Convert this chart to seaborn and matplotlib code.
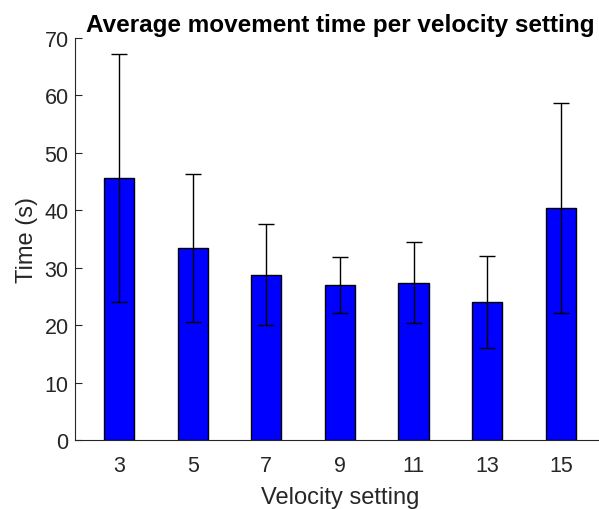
import matplotlib
matplotlib.use("Agg")
import matplotlib.pyplot as plt
import seaborn as sns
import pandas as pd

# Mean movement time and its spread for each velocity setting
velocity = ["3", "5", "7", "9", "11", "13", "15"]
mean_time = [45.6, 33.4, 28.8, 27.0, 27.4, 24.0, 40.4]
time_err = [21.5, 12.9, 8.8, 4.8, 7.1, 8.0, 18.2]

df = pd.DataFrame({"velocity": velocity, "time": mean_time})

sns.set_theme(style="ticks")
plt.rcParams["font.family"] = ["Liberation Sans", "DejaVu Sans"]

fig = plt.figure(figsize=(5.99, 5.10), dpi=100)
ax = fig.add_axes([0.125, 0.135, 0.885, 0.789])

sns.barplot(data=df, x="velocity", y="time", order=velocity,
            color="#0000ff", saturation=1, width=0.41,
            edgecolor="black", linewidth=1.0, errorbar=None, ax=ax)

ax.errorbar(range(len(velocity)), mean_time, yerr=time_err, fmt="none",
            ecolor="black", elinewidth=1.0, capsize=5.5, capthick=1.0)

ax.set_xlim(-0.6, 6.6)
ax.set_ylim(0, 70)
ax.set_yticks(range(0, 71, 10))

grey = "#262626"
for side in ("top", "right"):
    ax.spines[side].set_visible(False)
for side in ("left", "bottom"):
    ax.spines[side].set_color(grey)
    ax.spines[side].set_linewidth(0.8)

ax.tick_params(axis="both", direction="in", length=5, width=0.8,
               colors=grey, labelsize=15.5, labelcolor=grey)
ax.tick_params(axis="x", pad=11)
ax.tick_params(axis="y", pad=4.5)

ax.set_xlabel("Velocity setting", fontsize=17, color=grey, labelpad=7)
ax.set_ylabel("Time (s)", fontsize=17, color=grey, labelpad=5)
ax.set_title("Average movement time per velocity setting",
             fontsize=17.5, fontweight="bold", color="black", pad=5)

fig.savefig("out.png", dpi=100)
